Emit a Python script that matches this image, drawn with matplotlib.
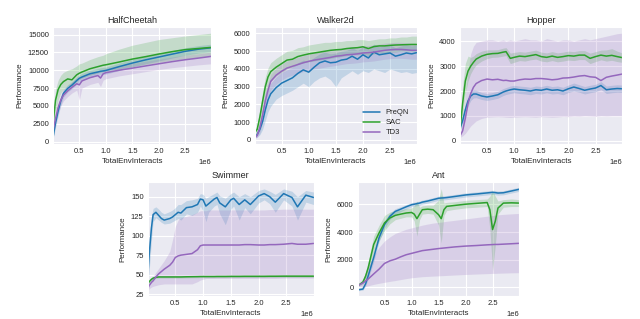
import matplotlib
matplotlib.use("Agg")
import matplotlib.pyplot as plt
import numpy as np
import seaborn as sns

sns.set_style("darkgrid")
plt.rcParams['font.family'] = ['Liberation Sans', 'DejaVu Sans']

algos = ["PreQN", "SAC", "TD3"]
colors = ["#1f77b4", "#2ca02c", "#9467bd"]

# ---- HalfCheetah (x in millions of env interacts)
hc_x = [0.01, 0.05, 0.1, 0.15, 0.2, 0.28, 0.36, 0.45, 0.5, 0.55, 0.7, 0.85, 0.9, 0.95, 1.0,
        1.25, 1.5, 1.75, 2.0, 2.25, 2.5, 2.75, 2.99]
hc_preqn = [850, 2600, 4300, 5700, 6750, 7450, 7900, 8550, 8870, 9050, 9500, 9750, 9850, 9900, 9960,
            10500, 11000, 11450, 11850, 12250, 12650, 12950, 13150]
hc_preqn_lo = [500, 2000, 3600, 5100, 6200, 6950, 7400, 8050, 8350, 8550, 9000, 9250, 9350, 9400, 9450,
               9950, 10450, 10900, 11300, 11700, 12100, 12400, 12600]
hc_preqn_hi = [1300, 3200, 5000, 6300, 7300, 7950, 8400, 9050, 9350, 9550, 10000, 10250, 10350, 10400, 10450,
               11000, 11500, 11950, 12350, 12750, 13150, 13450, 13650]
hc_sac = [2970, 5800, 7300, 8000, 8400, 8780, 8650, 9350, 9580, 9750, 10200, 10500, 10600, 10700, 10760,
          11150, 11560, 11900, 12270, 12600, 12890, 13050, 13200]
hc_sac_lo = [2000, 4200, 5800, 6800, 7300, 7800, 7900, 8400, 8700, 8900, 9300, 9600, 9700, 9800, 9900,
             10200, 10500, 10800, 11100, 11400, 11600, 11800, 12000]
hc_sac_hi = [3900, 7300, 8600, 9300, 9700, 10000, 10200, 10600, 10900, 11000, 11500, 11900, 12000, 12100, 12300,
             12950, 13500, 13900, 14300, 14550, 14800, 15000, 15200]
hc_td3 = [1800, 3200, 4800, 5800, 6500, 7100, 7600, 8100, 7950, 8500, 8950, 9250, 8900, 9500, 9650,
          10000, 10290, 10600, 10900, 11200, 11470, 11700, 11940]
hc_td3_lo = [1200, 2500, 4000, 5000, 5700, 6300, 6800, 7200, 5800, 7500, 8000, 8300, 7700, 8600, 8800,
             9200, 9500, 9800, 10100, 10350, 10550, 10750, 10900]
hc_td3_hi = [2400, 3900, 5600, 6600, 7300, 7800, 8300, 8800, 8900, 9200, 9600, 9900, 9900, 10100, 10250,
             10650, 10950, 11250, 11550, 11850, 12100, 12300, 12550]

# ---- Walker2d
wk_x = [0.01, 0.05, 0.1, 0.15, 0.2, 0.25, 0.3, 0.4, 0.5, 0.6, 0.7, 0.8, 0.9, 1.0, 1.1, 1.2, 1.3, 1.4,
        1.5, 1.6, 1.7, 1.8, 1.9, 2.0, 2.1, 2.2, 2.3, 2.4, 2.5, 2.6, 2.7, 2.8, 2.9, 2.99]
wk_preqn = [190, 300, 600, 1040, 1700, 2250, 2600, 2950, 3200, 3350, 3500, 3750, 3950, 3820, 4100, 4350, 4450, 4350,
            4380, 4500, 4550, 4720, 4550, 4800, 4620, 4950, 4800, 4850, 4900, 4720, 4800, 4900, 4850, 4920]
wk_preqn_lo = [120, 150, 300, 600, 1100, 1600, 1900, 2300, 2500, 2650, 2800, 3000, 3200, 3000, 3300, 3500, 3600, 3400,
               3000, 3500, 3700, 3900, 3700, 3900, 3800, 4000, 3900, 3800, 4000, 3900, 3800, 3850, 3750, 3800]
wk_preqn_hi = [300, 500, 950, 1600, 2300, 2850, 3200, 3550, 3800, 3950, 4100, 4350, 4500, 4400, 4650, 4850, 4950, 4850,
               4900, 5000, 5050, 5200, 5050, 5250, 5100, 5400, 5250, 5300, 5350, 5200, 5300, 5350, 5300, 5350]
wk_sac = [430, 600, 1300, 2170, 3000, 3550, 3850, 4100, 4300, 4500, 4550, 4700, 4780, 4850, 4900, 4950, 5000, 5050,
          5080, 5100, 5150, 5180, 5200, 5250, 5150, 5260, 5300, 5300, 5330, 5350, 5360, 5370, 5380, 5380]
wk_sac_lo = [300, 400, 900, 1600, 2400, 3000, 3300, 3600, 3800, 4000, 4100, 4250, 4350, 4400, 4450, 4500, 4550, 4600,
             4650, 4700, 4750, 4800, 4800, 4850, 4750, 4850, 4900, 4900, 4950, 4950, 5000, 5000, 5000, 5000]
wk_sac_hi = [550, 800, 1700, 2700, 3550, 4050, 4350, 4600, 4800, 5000, 5050, 5200, 5250, 5350, 5400, 5450, 5500, 5500,
             5550, 5550, 5600, 5600, 5650, 5650, 5600, 5650, 5700, 5700, 5750, 5750, 5800, 5800, 5850, 5850]
wk_td3 = [130, 250, 700, 1400, 2200, 2800, 3300, 3650, 3870, 4050, 4150, 4250, 4350, 4430, 4500, 4550, 4600, 4650,
          4720, 4750, 4800, 4820, 4850, 4900, 4920, 4950, 5000, 5050, 5080, 5100, 5100, 5080, 5050, 5050]
wk_td3_lo = [80, 150, 400, 1000, 1700, 2300, 2800, 3150, 3370, 3550, 3650, 3750, 3850, 3930, 4000, 4050, 4100, 4150,
             4200, 4250, 4300, 4320, 4350, 4400, 4420, 4450, 4500, 4550, 4580, 4600, 4600, 4580, 4550, 4550]
wk_td3_hi = [200, 350, 1000, 1800, 2650, 3200, 3700, 4050, 4270, 4450, 4550, 4650, 4750, 4830, 4900, 4950, 5000, 5050,
             5120, 5150, 5200, 5220, 5250, 5300, 5320, 5350, 5400, 5450, 5480, 5500, 5500, 5480, 5450, 5450]

# ---- Hopper
hp_x = [0.01, 0.05, 0.1, 0.15, 0.2, 0.25, 0.3, 0.4, 0.5, 0.6, 0.7, 0.8, 0.85, 0.93, 1.0, 1.1, 1.2, 1.3, 1.4,
        1.5, 1.6, 1.7, 1.8, 1.9, 2.0, 2.1, 2.2, 2.3, 2.4, 2.5, 2.6, 2.7, 2.8, 2.9, 2.99]
hp_preqn = [550, 800, 1250, 1600, 1800, 1880, 1880, 1800, 1760, 1800, 1850, 1960, 2000, 2050, 2080, 2050, 2030, 2000,
            2050, 2030, 2080, 2030, 2050, 2000, 2090, 2160, 2100, 2030, 2080, 2120, 2220, 2050, 2080, 2100, 2090]
hp_preqn_lo = [450, 650, 1050, 1400, 1620, 1720, 1730, 1660, 1620, 1660, 1710, 1820, 1860, 1900, 1930, 1900, 1880, 1850,
               1900, 1880, 1930, 1880, 1900, 1850, 1940, 2000, 1950, 1880, 1930, 1970, 2060, 1900, 1930, 1950, 1940]
hp_preqn_hi = [650, 950, 1450, 1800, 1980, 2040, 2030, 1940, 1900, 1940, 1990, 2100, 2140, 2200, 2230, 2200, 2180, 2150,
               2200, 2180, 2230, 2180, 2200, 2150, 2240, 2320, 2250, 2180, 2230, 2270, 2380, 2200, 2230, 2250, 2240]
hp_sac = [610, 1500, 2400, 2800, 3000, 3150, 3280, 3400, 3470, 3500, 3510, 3560, 3580, 3310, 3350, 3400, 3380, 3420,
          3460, 3380, 3350, 3400, 3350, 3380, 3420, 3400, 3440, 3440, 3310, 3380, 3440, 3400, 3430, 3380, 3340]
hp_sac_lo = [450, 1000, 1900, 2400, 2700, 2900, 3050, 3200, 3300, 3350, 3360, 3400, 3420, 3100, 3150, 3220, 3200, 3250,
             3280, 3200, 3170, 3220, 3170, 3200, 3240, 3220, 3260, 3260, 3100, 3180, 3250, 3200, 3230, 3180, 3150]
hp_sac_hi = [750, 2200, 3100, 3400, 3350, 3400, 3500, 3600, 3650, 3650, 3660, 3720, 3740, 3520, 3550, 3580, 3560, 3600,
             3640, 3560, 3530, 3580, 3530, 3560, 3600, 3580, 3620, 3620, 3520, 3580, 3640, 3650, 3700, 3600, 3530]
hp_td3 = [230, 400, 900, 1500, 1900, 2150, 2300, 2420, 2480, 2450, 2470, 2420, 2430, 2400, 2400, 2450, 2480, 2470,
          2500, 2500, 2480, 2450, 2470, 2520, 2530, 2560, 2600, 2620, 2570, 2550, 2420, 2550, 2600, 2640, 2680]
hp_td3_lo = [150, 200, 300, 450, 600, 700, 800, 900, 950, 960, 970, 960, 950, 940, 950, 960, 970, 960,
             950, 970, 960, 950, 960, 980, 970, 990, 980, 1000, 990, 980, 1000, 990, 1000, 1000, 1000]
hp_td3_hi = [300, 700, 1800, 2800, 3500, 3800, 3950, 4000, 4050, 4050, 4000, 4050, 4000, 4050, 4000, 4050, 4100, 4050,
             4050, 4000, 4100, 4050, 4000, 4050, 4050, 4000, 4050, 4100, 4050, 4100, 4150, 4200, 4250, 4300, 4320]

# ---- Swimmer
sw_x = [0.01, 0.03, 0.07, 0.1, 0.15, 0.2, 0.25, 0.3, 0.4, 0.45, 0.5, 0.55, 0.6, 0.7, 0.8, 0.9, 0.95, 1.0, 1.05,
        1.1, 1.2, 1.25, 1.3, 1.4, 1.5, 1.55, 1.65, 1.75, 1.85, 2.0, 2.1, 2.2, 2.3, 2.45, 2.6, 2.7, 2.85, 2.99]
sw_preqn = [55, 76, 110, 127, 130, 126, 122, 120, 122, 124, 127, 130, 129, 136, 137, 140, 147, 146, 138,
            141, 147, 149, 142, 137, 146, 148, 140, 146, 140, 151, 154, 150, 143, 154, 149, 137, 152, 149]
sw_preqn_lo = [42, 55, 95, 118, 123, 120, 117, 115, 116, 118, 120, 122, 120, 128, 126, 130, 138, 132, 118,
               130, 138, 140, 128, 114, 134, 138, 120, 136, 128, 142, 146, 141, 130, 146, 138, 120, 143, 140]
sw_preqn_hi = [85, 95, 125, 135, 137, 134, 130, 128, 131, 133, 136, 140, 140, 145, 146, 148, 154, 153, 148,
               150, 154, 156, 151, 148, 154, 156, 150, 154, 150, 158, 160, 157, 153, 160, 157, 150, 158, 156]
sw_sac = [39, 41, 44, 45.5, 46.5, 47, 47, 47, 47, 47, 47, 47, 47, 47.2, 47.3, 47.4, 47.5, 47.5, 47.5,
          47.5, 47.5, 47.6, 47.6, 47.6, 47.7, 47.7, 47.7, 47.8, 47.8, 47.8, 47.8, 47.9, 47.9, 48, 48, 48, 48, 48]
sw_sac_lo = [37, 39.5, 42.5, 44, 45, 45.5, 45.5, 45.5, 45.5, 45.5, 45.5, 45.5, 45.5, 45.7, 45.8, 45.9, 46, 46, 46,
             46, 46, 46.1, 46.1, 46.1, 46.2, 46.2, 46.2, 46.3, 46.3, 46.3, 46.3, 46.4, 46.4, 46.5, 46.5, 46.5, 46.5, 46.5]
sw_sac_hi = [41, 42.5, 45.5, 47, 48, 48.5, 48.5, 48.5, 48.5, 48.5, 48.5, 48.5, 48.5, 48.7, 48.8, 48.9, 49, 49, 49,
             49, 49, 49.1, 49.1, 49.1, 49.2, 49.2, 49.2, 49.3, 49.3, 49.3, 49.3, 49.4, 49.4, 49.5, 49.5, 49.5, 49.5, 49.5]
sw_td3 = [33, 36, 40, 42, 47, 51, 54, 57, 62, 66, 72, 74, 75, 76, 77, 82, 87, 88, 88,
          88, 88, 88, 88, 88, 88, 88, 88, 88.5, 88.5, 88, 88, 88.5, 88.5, 89, 90, 89, 89, 90]
sw_td3_lo = [30, 32, 34, 35, 36, 37, 37.5, 38, 38, 38, 38, 38, 38, 38, 38, 41, 43, 44, 45,
             45, 45, 45, 45, 45, 45, 45, 45, 45, 45, 45, 45, 45, 45, 45.5, 45.5, 45.5, 45.5, 45.5]
sw_td3_hi = [38, 42, 46, 48, 53, 58, 63, 68, 80, 95, 112, 120, 123, 125, 127, 130, 132, 132, 132,
             133, 133, 133, 133, 133, 133, 133, 133, 133, 133, 133, 133, 133.5, 133.5, 134, 134, 134, 134, 134]

# ---- Ant
an_x = [0.01, 0.1, 0.15, 0.2, 0.3, 0.4, 0.5, 0.6, 0.7, 0.8, 0.9, 1.0, 1.05, 1.1, 1.15, 1.2, 1.3, 1.4, 1.5,
        1.55, 1.6, 1.65, 1.8, 2.0, 2.2, 2.4, 2.45, 2.5, 2.55, 2.6, 2.7, 2.85, 2.99]
an_preqn = [-190, -140, 240, 840, 2150, 3590, 4540, 5140, 5500, 5660, 5830, 5980, 6020, 6060, 6100, 6170, 6250, 6350, 6450,
            6470, 6480, 6500, 6580, 6690, 6760, 6840, 6860, 6880, 6860, 6830, 6850, 6980, 7100]
an_preqn_lo = [-260, -220, 100, 600, 1850, 3300, 4250, 4900, 5300, 5480, 5670, 5830, 5870, 5910, 5950, 6020, 6100, 6200, 6300,
               6320, 6330, 6350, 6430, 6540, 6610, 6690, 6710, 6730, 6710, 6680, 6700, 6830, 6950]
an_preqn_hi = [-120, -60, 380, 1080, 2450, 3880, 4830, 5380, 5700, 5840, 5990, 6130, 6170, 6210, 6250, 6320, 6400, 6500, 6600,
               6620, 6630, 6650, 6730, 6840, 6910, 6990, 7010, 7030, 7010, 6980, 7000, 7130, 7250]
an_sac = [120, 360, 800, 1430, 3100, 3940, 4660, 5020, 5210, 5300, 5380, 5420, 5300, 4970, 5300, 5620, 5660, 5620, 5260,
          4970, 5620, 5860, 5930, 6020, 6080, 6140, 5620, 4180, 4780, 5740, 6100, 6120, 6100]
an_sac_lo = [50, 200, 500, 1000, 2500, 3400, 4100, 4600, 4900, 5000, 5100, 5100, 4800, 3700, 4900, 5300, 5350, 5300, 4500,
             3200, 5200, 5550, 5650, 5750, 5800, 5850, 4200, 1200, 3000, 5300, 5800, 5850, 5850]
an_sac_hi = [200, 550, 1100, 1900, 3700, 4500, 5200, 5450, 5550, 5600, 5700, 5750, 5900, 6250, 5800, 5900, 5950, 5950, 6300,
             7150, 6100, 6150, 6200, 6300, 6350, 6400, 6600, 7000, 6600, 6250, 6350, 6400, 6350]
an_td3 = [120, 300, 450, 600, 960, 1310, 1720, 1910, 2030, 2200, 2350, 2450, 2500, 2550, 2600, 2650, 2700, 2750, 2800,
          2820, 2840, 2860, 2920, 2980, 3020, 3070, 3080, 3090, 3100, 3100, 3120, 3150, 3180]
an_td3_lo = [50, 0, 50, 100, 200, 280, 350, 420, 480, 550, 620, 680, 700, 720, 740, 760, 780, 800, 820,
             830, 840, 850, 880, 920, 950, 980, 990, 1000, 1000, 1010, 1020, 1040, 1050]
an_td3_hi = [200, 600, 1000, 1500, 2300, 2900, 3350, 3650, 3900, 4050, 4200, 4300, 4350, 4400, 4450, 4500, 4580, 4650, 4700,
             4720, 4750, 4780, 4850, 4950, 5050, 5150, 5170, 5200, 5220, 5250, 5280, 5320, 5350]

panels = [
    ("HalfCheetah", hc_x, [(hc_preqn, hc_preqn_lo, hc_preqn_hi), (hc_sac, hc_sac_lo, hc_sac_hi), (hc_td3, hc_td3_lo, hc_td3_hi)],
     (-330, 16000), np.arange(0, 15001, 2500), [0.083, 0.549, 0.247, 0.365]),
    ("Walker2d", wk_x, [(wk_preqn, wk_preqn_lo, wk_preqn_hi), (wk_sac, wk_sac_lo, wk_sac_hi), (wk_td3, wk_td3_lo, wk_td3_hi)],
     (-220, 6340), np.arange(0, 6001, 1000), [0.398, 0.549, 0.253, 0.365]),
    ("Hopper", hp_x, [(hp_preqn, hp_preqn_lo, hp_preqn_hi), (hp_sac, hp_sac_lo, hp_sac_hi), (hp_td3, hp_td3_lo, hp_td3_hi)],
     (-120, 4550), np.arange(0, 4001, 1000), [0.719, 0.549, 0.253, 0.365]),
    ("Swimmer", sw_x, [(sw_preqn, sw_preqn_lo, sw_preqn_hi), (sw_sac, sw_sac_lo, sw_sac_hi), (sw_td3, sw_td3_lo, sw_td3_hi)],
     (22.5, 168.7), np.arange(25, 151, 25), [0.231, 0.072, 0.259, 0.357]),
    ("Ant", an_x, [(an_preqn, an_preqn_lo, an_preqn_hi), (an_sac, an_sac_lo, an_sac_hi), (an_td3, an_td3_lo, an_td3_hi)],
     (-645, 7620), np.arange(0, 6001, 2000), [0.559, 0.072, 0.252, 0.357]),
]

fig = plt.figure(figsize=(6.4, 3.19), dpi=100)

for title, xs, series, ylim, yticks, rect in panels:
    ax = fig.add_axes(rect)
    x = np.array(xs) * 1e6
    for (m, lo, hi), c, name in zip(series, colors, algos):
        ax.fill_between(x, lo, hi, color=c, alpha=0.2, lw=0)
        ax.plot(x, m, color=c, lw=1.1, label=name)
    ax.set_xlim(0.005e6, 2.99e6)
    ax.set_ylim(*ylim)
    ax.set_xticks([0.5e6, 1.0e6, 1.5e6, 2.0e6, 2.5e6])
    ax.set_yticks(yticks)
    ax.tick_params(labelsize=5.5, length=0, pad=3)
    ax.xaxis.offsetText.set_fontsize(5.5)
    ax.set_title(title, fontsize=6.5, pad=3)
    ax.set_xlabel("TotalEnvInteracts", fontsize=5.8, labelpad=2)
    ax.set_ylabel("Performance", fontsize=5.8, labelpad=3)
    if title == "Walker2d":
        ax.legend(loc="lower right", fontsize=5.5, frameon=False, handlelength=2.2,
                  labelspacing=0.35, borderaxespad=0.6)

fig.savefig("out.png", dpi=100)
